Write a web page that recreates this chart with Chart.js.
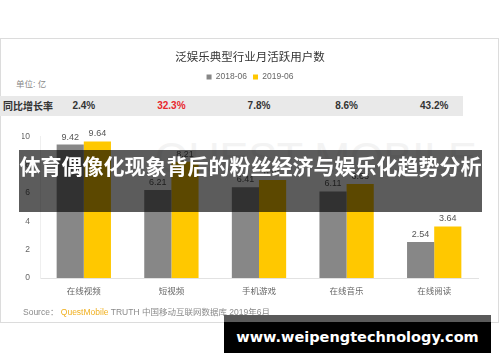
<!DOCTYPE html>
<html>
<head>
<meta charset="utf-8">
<script src="https://cdn.jsdelivr.net/npm/chart.js@4.4.1/dist/chart.umd.min.js"></script>
<style>
  html, body { margin: 0; padding: 0; background: #fff; }
  body { width: 500px; height: 362px; position: relative; overflow: hidden;
         font-family: "Liberation Sans", "Noto Sans CJK SC", sans-serif; }
  #card { position: absolute; left: 0; top: 38px; width: 497px; height: 283px;
          border: 1px solid #dcdcdc; background: #fff; }
  #wm { position: absolute; left: 155px; top: 136px; font: normal 43px/43px "Liberation Sans", sans-serif;
        color: #f3f3f3; white-space: nowrap; }
  #chartWrap { position: absolute; left: 0; top: 0; width: 500px; height: 362px; }
  #unit { position: absolute; left: 16px; top: 77px; font-size: 8.5px; color: #888; }
  #growthBand { position: absolute; left: 0; top: 96px; width: 463px; height: 20px; background: #e9e9e9; }
  #growthLabel { position: absolute; left: 3px; top: 96px; height: 20px; line-height: 20px;
                 font-size: 10px; font-weight: bold; color: #333; font-family: "Noto Sans CJK SC", sans-serif; }
  .gv { position: absolute; top: 96px; height: 20px; line-height: 20px; font-size: 10px; font-weight: bold;
        color: #333; transform: translateX(-50%); white-space: nowrap; }
  #source { position: absolute; left: 23px; top: 305px; font-size: 8.5px; color: #8a8a8a; white-space: nowrap; }
  #source .qm { color: #f0b020; }
  #banner { position: absolute; left: 19px; top: 150px; width: 463px; height: 62px;
            background: rgba(0,0,0,0.64); color: #fff; text-align: center; line-height: 62px;
            font: bold 21px "Noto Sans CJK SC", sans-serif; white-space: nowrap; }
  #url { position: absolute; left: 224px; top: 315px; width: 267px; height: 38px;
         background: linear-gradient(#5a5a5a 0px, #5a5a5a 7px, #000 7px, #000 100%);
         color: #fff; text-align: center; font: bold 14.5px "DejaVu Sans", sans-serif;
         line-height: 31px; padding-top: 7px; box-sizing: border-box; white-space: nowrap; }
</style>
</head>
<body>
<div id="card"></div>
<div id="wm">QUEST MOBILE</div>
<div id="growthBand"></div>
<div id="growthLabel"></div>
<div id="unit"></div>
<div id="chartWrap"><canvas id="c" width="500" height="362"></canvas></div>
<div id="source"></div>
<div id="banner"></div>
<div id="url"></div>
<script>
// ---- data ----
const chartTitle = "泛娱乐典型行业月活跃用户数";
const categories = ["在线视频", "短视频", "手机游戏", "在线音乐", "在线阅读"];
const seriesNames = ["2018-06", "2019-06"];
const values2018 = [9.42, 6.21, 6.41, 6.11, 2.54];
const values2019 = [9.64, 8.21, 6.91, 6.63, 3.64];
const growthLabel = "同比增长率";
const growthRates = ["2.4%", "32.3%", "7.8%", "8.6%", "43.2%"];
const highlightIndex = 1;
const unitText = "单位: 亿";
const yTicks = [0, 2, 4, 6, 8, 10];
const bannerText = "体育偶像化现象背后的粉丝经济与娱乐化趋势分析";
const urlText = "www.weipengtechnology.com";
const sourceParts = ["Source：", "QuestMobile", "TRUTH 中国移动互联网数据库 2019年6月"];

const GRAY = "#878787", YELLOW = "#ffc800";

document.getElementById("unit").textContent = unitText;
document.getElementById("growthLabel").textContent = growthLabel;
document.getElementById("banner").textContent = bannerText;
document.getElementById("url").textContent = urlText;
const src = document.getElementById("source");
const s0 = document.createElement("span"); s0.textContent = sourceParts[0] + " ";
const s1 = document.createElement("span"); s1.className = "qm"; s1.textContent = sourceParts[1];
const s2 = document.createElement("span"); s2.textContent = " " + sourceParts[2];
src.append(s0, s1, s2);

const valueLabels = {
  id: "valueLabels",
  afterDatasetsDraw(chart) {
    const ctx = chart.ctx;
    ctx.save();
    ctx.font = '9px "Liberation Sans", sans-serif';
    ctx.fillStyle = "#555";
    ctx.textAlign = "center";
    ctx.textBaseline = "bottom";
    chart.data.datasets.forEach((ds, di) => {
      chart.getDatasetMeta(di).data.forEach((bar, i) => {
        ctx.fillText(ds.data[i].toFixed(2), bar.x, bar.y - 3);
      });
    });
    ctx.restore();
  }
};

const legendGap = {
  id: "legendGap",
  beforeLayout(chart) {
    const lg = chart.legend;
    if (lg && !lg._gapPatched) {
      const f = lg.fit;
      lg.fit = function () { f.call(this); this.height += 45; };
      lg._gapPatched = true;
    }
  }
};

const chart = new Chart(document.getElementById("c"), {
  type: "bar",
  data: {
    labels: categories,
    datasets: [
      { label: seriesNames[0], data: values2018, backgroundColor: GRAY,
        categoryPercentage: 0.62, barPercentage: 1.0 },
      { label: seriesNames[1], data: values2019, backgroundColor: YELLOW,
        categoryPercentage: 0.62, barPercentage: 1.0 }
    ]
  },
  options: {
    responsive: false,
    animation: false,
    devicePixelRatio: 1,
    layout: { padding: { left: 22, right: 22, top: 0, bottom: 0 } },
    plugins: {
      title: {
        display: true, text: chartTitle, color: "#333",
        font: { size: 11.5, family: '"Noto Sans CJK SC", sans-serif', weight: "normal" },
        padding: { top: 50, bottom: 3 }
      },
      legend: {
        display: true, position: "top",
        labels: { boxWidth: 5, boxHeight: 5, padding: 6, color: "#666",
                  font: { size: 8.5, family: '"Liberation Sans", sans-serif' } }
      },
      tooltip: { enabled: false }
    },
    scales: {
      x: {
        grid: { display: false, drawTicks: false },
        border: { display: true, color: "#e2e2e2" },
        ticks: { color: "#666", padding: 8,
                 font: { size: 8.5, family: '"Noto Sans CJK SC", sans-serif' } },
        afterFit(scale) { scale.height = 84; }
      },
      y: {
        min: 0, max: 10,
        afterBuildTicks(scale) { scale.ticks = yTicks.map(v => ({ value: v })); },
        grid: { display: false, drawTicks: false },
        border: { display: true, color: "#efefef" },
        ticks: { color: "#666", padding: 10,
                 font: { size: 8.5, family: '"Liberation Sans", sans-serif' } },
        afterFit(scale) { scale.width = 18; }
      }
    }
  },
  plugins: [valueLabels, legendGap]
});

// growth row values positioned on the chart's category scale
const xs = chart.scales.x;
growthRates.forEach((g, i) => {
  const d = document.createElement("div");
  d.className = "gv";
  d.textContent = g;
  d.style.left = xs.getPixelForValue(i) + "px";
  if (i === highlightIndex) d.style.color = "#e8262c";
  document.body.insertBefore(d, document.getElementById("chartWrap"));
});
</script>
</body>
</html>
